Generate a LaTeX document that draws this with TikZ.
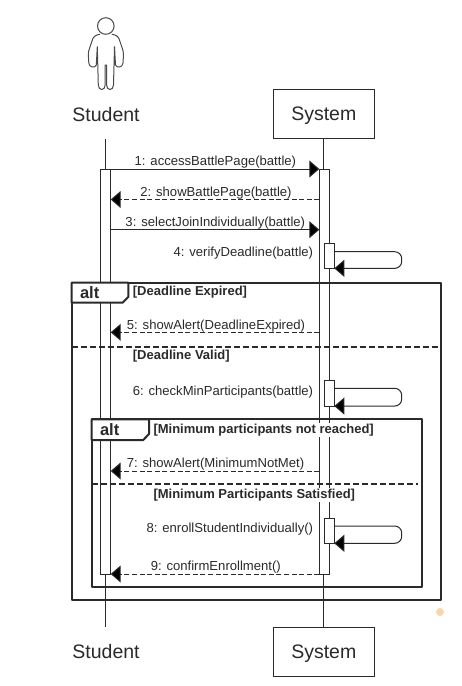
\documentclass[tikz,border=0pt]{standalone}
\usepackage{fontspec}
\setmainfont{Liberation Sans}
\usetikzlibrary{arrows.meta,calc}
\definecolor{ink}{HTML}{2A2A2A}
\definecolor{dot}{HTML}{FAD7A8}
\tikzset{
  actorbox/.style={draw=ink,line width=1pt,fill=white,minimum width=101pt,minimum height=48.7pt,inner sep=0pt,text depth=0pt,font=\fontsize{19.5}{22}\selectfont,text=ink},
  actorname/.style={inner sep=0pt,font=\fontsize{19.5}{22}\selectfont,text=ink},
  lifeline/.style={draw=ink,line width=1pt},
  actbar/.style={draw=ink,line width=1pt,fill=white,minimum width=10pt,inner sep=0pt,outer sep=0pt},
  msg/.style={draw=ink,line width=1pt,-{Triangle[length=10pt,width=17pt,fill=black]}},
  retmsg/.style={msg,dash pattern=on 5pt off 2.6pt},
  selfmsg/.style={msg,rounded corners=7pt},
  msgtext/.style={inner sep=0pt,yshift=-1.5pt,font=\fontsize{13.1}{15}\selectfont,text=ink},
  frameline/.style={draw=ink,line width=2pt,line join=round},
  framediv/.style={draw=ink,line width=2pt,dash pattern=on 6pt off 3pt},
  guard/.style={fill=white,inner sep=1pt,yshift=-0.8pt,font=\bfseries\fontsize{13}{15}\selectfont,text=ink,anchor=west},
  altname/.style={inner sep=0pt,font=\bfseries\fontsize{16.5}{18}\selectfont,text=ink},
  figure/.style={draw=ink!85,line width=1pt,line join=round}
}
\begin{document}
\begin{tikzpicture}[x=1pt,y=-1pt]
\useasboundingbox[fill=white] (0,0) rectangle (462,686);
% actor figure
\draw[figure] (105.8,26) circle (8.3);
\draw[figure] (100,34.2) .. controls (95,35) and (93,37) .. (92,41)
  .. controls (90.5,46) and (88.5,50) .. (88.3,54) -- (88.8,63)
  .. controls (89,67.5) and (95,68.5) .. (96.3,65) -- (97.3,46.7) -- (98.3,85)
  .. controls (98.5,91) and (105,91) .. (105.2,85) -- (105.2,65) -- (106.6,65) -- (106.6,85)
  .. controls (106.8,91) and (113.3,91) .. (113.5,85) -- (114.5,46.7) -- (115.5,65)
  .. controls (116.8,68.5) and (122.8,67.5) .. (123,63) -- (123.5,54)
  .. controls (123.3,50) and (121.3,46) .. (119.8,41)
  .. controls (118.8,37) and (116.8,35) .. (111.8,34.2);
% names
\node[actorname] (student) at (106,114.7) {Student};
\node[actorname] (studentb) at (106,651.7) {Student};
\node[actorbox] (sys) at (323.8,113.7) {System};
\node[actorbox] (sysb) at (323.8,651.7) {System};
% lifelines
\coordinate (stTop) at (105.7,139);
\coordinate (stBot) at (105.7,626.7);
\draw[lifeline] (stTop) -- (stBot);
\draw[lifeline] (sys.south) -- (sysb.north);
% activations
\node[actbar,minimum height=405pt] (sa) at (105.7,371.5) {};
\node[actbar,minimum height=405pt] (ya) at (324.3,371.5) {};
\node[actbar,minimum height=24.7pt] (v1) at (329.3,256) {};
\node[actbar,minimum height=25.3pt] (v2) at (329.3,393.4) {};
\node[actbar,minimum height=25pt] (v3) at (329.3,530.8) {};
% message heights
\coordinate (m1) at (0,169);
\coordinate (m2) at (0,199.5);
\coordinate (m3) at (0,229.7);
\coordinate (m5) at (0,332.3);
\coordinate (m7) at (0,471);
\coordinate (m9) at (0,574);
\coordinate (edge) at (401.7,0);
% frames
\coordinate (oa) at (71.7,282.7);
\coordinate (ob) at (441,600);
\coordinate (ia) at (91.7,419.3);
\coordinate (ib) at (421.7,587.3);
\draw[frameline] (oa) rectangle (ob);
\draw[frameline,fill=white] (oa) -- (128.3,282.7) -- (128.3,297) -- (122.5,302.7) -- (71.7,302.7) -- cycle;
\draw[framediv] (71.7,346.7) -- (437.7,346.7);
\draw[frameline] (ia) rectangle (ib);
\draw[frameline,fill=white] (ia) -- (149,419.3) -- (149,434) -- (143.2,440) -- (91.7,440) -- cycle;
\draw[framediv] (91.7,484.3) -- (418,484.3);
% frame labels
\node[altname] (alt1) at (89.7,293) {alt};
\node[altname] (alt2) at (109.7,430) {alt};
\node[guard] (g1) at (131.7,291) {[Deadline Expired]};
\node[guard] (g2) at (131.7,355.3) {[Deadline Valid]};
\node[guard] (g3) at (152.3,429) {[Minimum participants not reached]};
\node[guard] (g4) at (152.3,494) {[Minimum Participants Satisfied]};
% messages
\draw[msg] (sa.east |- m1) -- (ya.west |- m1);
\draw[retmsg] (ya.west |- m2) -- (sa.east |- m2);
\draw[msg] (sa.east |- m3) -- (ya.west |- m3);
\draw[selfmsg] (v1.east |- 0,251.7) -- (edge |- 0,251.7) -- (edge |- v1.south) -- (v1.south east);
\draw[retmsg] (ya.west |- m5) -- (sa.east |- m5);
\draw[selfmsg] (v2.east |- 0,388.3) -- (edge |- 0,388.3) -- (edge |- v2.south) -- (v2.south east);
\draw[retmsg] (ya.west |- m7) -- (sa.east |- m7);
\draw[selfmsg] (v3.east |- 0,526) -- (edge |- 0,526) -- (edge |- v3.south) -- (v3.south east);
\draw[retmsg] (ya.west |- m9) -- (sa.east |- m9);
% message labels
\node[msgtext] (t1) at (215.4,161) {1: accessBattlePage(battle)};
\node[msgtext] (t2) at (216,192) {2: showBattlePage(battle)};
\node[msgtext] (t3) at (215.3,222) {3: selectJoinIndividually(battle)};
\node[msgtext,anchor=east] (t4) at (313.3,252) {4: verifyDeadline(battle)};
\node[msgtext] (t5) at (216,325) {5: showAlert(DeadlineExpired)};
\node[msgtext,anchor=east] (t6) at (313.3,390.7) {6: checkMinParticipants(battle)};
\node[msgtext] (t7) at (215.5,462.3) {7: showAlert(MinimumNotMet)};
\node[msgtext,anchor=east] (t8) at (313.3,527.7) {8: enrollStudentIndividually()};
\node[msgtext] (t9) at (215.8,565.7) {9: confirmEnrollment()};
% stray handle
\fill[dot] (440,612) circle (4);
\end{tikzpicture}
\end{document}
